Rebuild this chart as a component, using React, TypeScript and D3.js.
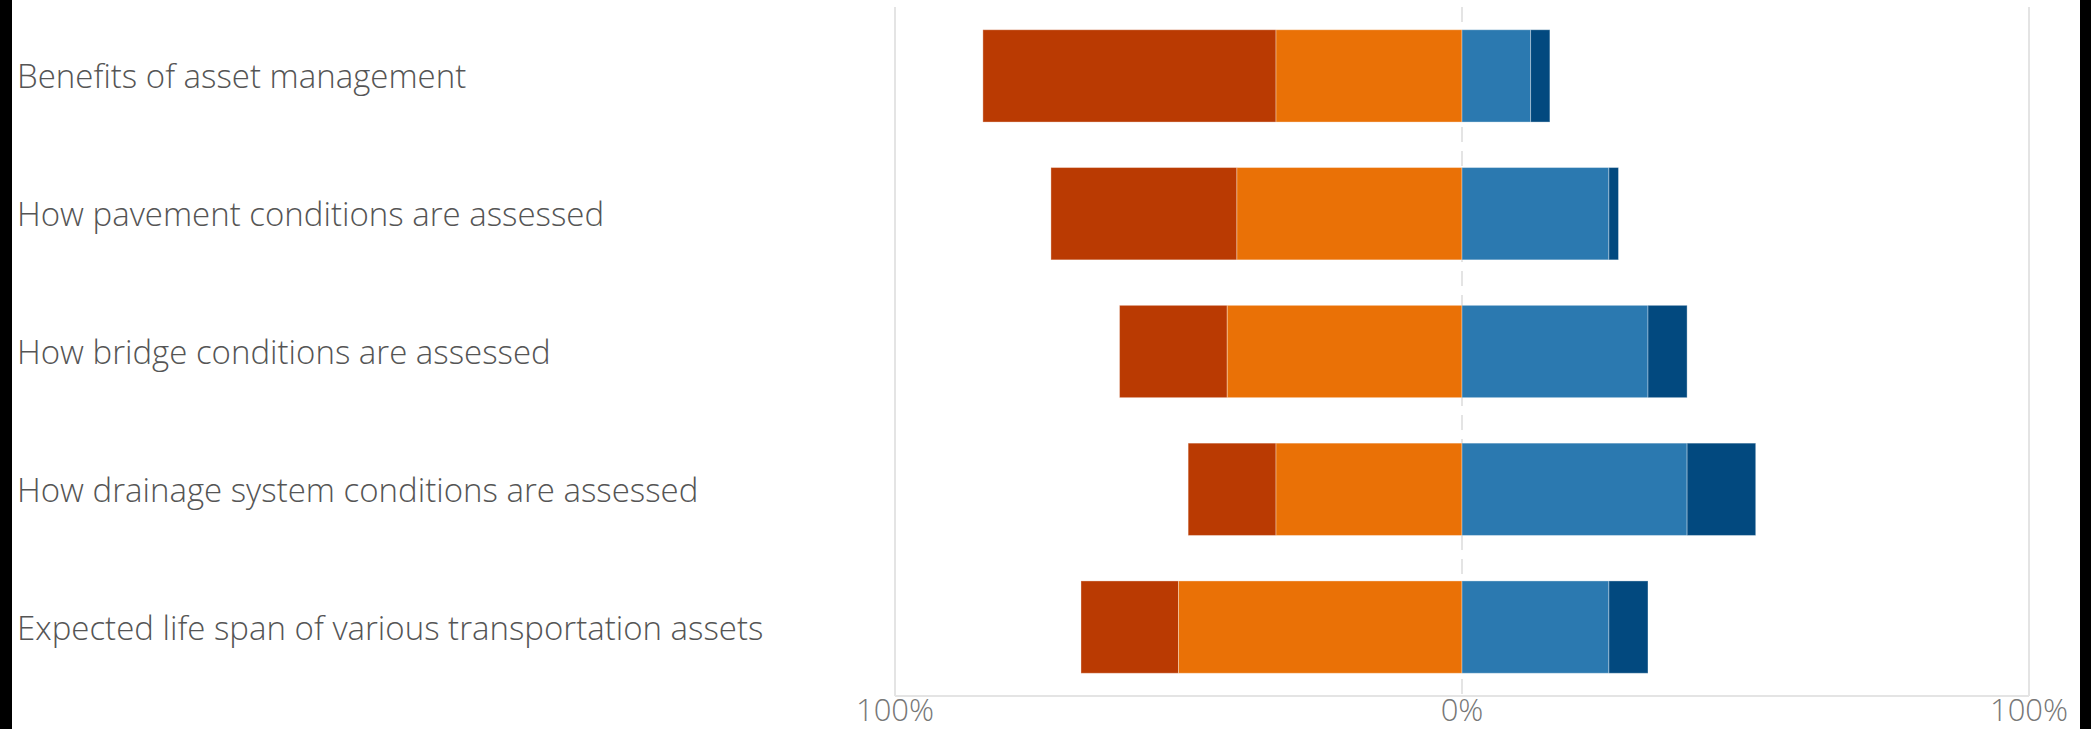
import React, { useEffect, useRef } from "react";
import * as d3 from "d3";

const categories = [
  "Benefits of asset management",
  "How pavement conditions are assessed",
  "How bridge conditions are assessed",
  "How drainage system conditions are assessed",
  "Expected life span of various transportation assets",
];
// percentages per response level
const stronglyNegative = [51.7, 32.8, 19.0, 15.5, 17.2];
const negative = [32.8, 39.7, 41.4, 32.8, 50.0];
const positive = [12.1, 25.9, 32.8, 39.7, 25.9];
const stronglyPositive = [3.4, 1.7, 6.9, 12.1, 6.9];
const tickValues = [-100, 0, 100];
const tickLabels = ["100%", "0%", "100%"];
const colors = ["#BA3A02", "#EA7106", "#2B79B0", "#02497F"];

const W = 2091;
const H = 729;

export default function App() {
  const ref = useRef<SVGSVGElement | null>(null);
  useEffect(() => {
    document.body.style.margin = "0";
    const svg = d3.select(ref.current);
    svg.selectAll("*").remove();

    const x = d3.scaleLinear().domain([-100, 100]).range([895, 2029]);
    const y = d3
      .scaleBand<string>()
      .domain(categories)
      .range([7, 696])
      .paddingInner(0.33)
      .paddingOuter(0.165);

    const font = "'Segoe UI', 'Open Sans', 'Noto Sans', sans-serif";

    svg.append("rect").attr("width", W).attr("height", H).attr("fill", "#fff");

    // gridlines
    const g = svg.append("g");
    [-100, 100].forEach((v) => {
      g.append("line")
        .attr("x1", x(v))
        .attr("x2", x(v))
        .attr("y1", 7)
        .attr("y2", 696)
        .attr("stroke", "#e4e4e4")
        .attr("stroke-width", 2);
    });
    g.append("line")
      .attr("x1", x(0))
      .attr("x2", x(0))
      .attr("y1", 7)
      .attr("y2", 696)
      .attr("stroke", "#e4e4e4")
      .attr("stroke-width", 2)
      .attr("stroke-dasharray", "15 9");
    g.append("line")
      .attr("x1", x(-100))
      .attr("x2", x(100))
      .attr("y1", 696)
      .attr("y2", 696)
      .attr("stroke", "#e4e4e4")
      .attr("stroke-width", 2);

    // bars
    const rows = categories.map((c, i) => {
      const segs: { x0: number; x1: number; color: string }[] = [];
      let left = -(stronglyNegative[i] + negative[i]);
      segs.push({ x0: left, x1: left + stronglyNegative[i], color: colors[0] });
      left += stronglyNegative[i];
      segs.push({ x0: left, x1: 0, color: colors[1] });
      segs.push({ x0: 0, x1: positive[i], color: colors[2] });
      segs.push({
        x0: positive[i],
        x1: positive[i] + stronglyPositive[i],
        color: colors[3],
      });
      return { c, segs };
    });

    const bars = svg.append("g");
    rows.forEach((r) => {
      bars
        .selectAll(null)
        .data(r.segs)
        .enter()
        .append("rect")
        .attr("x", (d) => x(d.x0))
        .attr("width", (d) => x(d.x1) - x(d.x0))
        .attr("y", y(r.c)!)
        .attr("height", y.bandwidth())
        .attr("fill", (d) => d.color)
        .attr("stroke", "rgba(255,255,255,0.35)")
        .attr("stroke-width", 1);
    });

    // category labels
    svg
      .append("g")
      .selectAll("text")
      .data(categories)
      .enter()
      .append("text")
      .attr("x", 17)
      .attr("y", (d) => y(d)! + y.bandwidth() / 2)
      .attr("dominant-baseline", "central")
      .attr("font-family", font)
      .attr("font-weight", 300)
      .attr("font-size", 33)
      .attr("fill", "#555")
      .text((d) => d);

    // tick labels
    svg
      .append("g")
      .selectAll("text")
      .data(tickValues)
      .enter()
      .append("text")
      .attr("x", (d) => x(d))
      .attr("y", 721)
      .attr("text-anchor", "middle")
      .attr("font-family", font)
      .attr("font-weight", 300)
      .attr("font-size", 31)
      .attr("fill", "#777")
      .text((_, i) => tickLabels[i]);

    // dark frame edges
    svg.append("rect").attr("x", 0).attr("y", 0).attr("width", 12).attr("height", H).attr("fill", "#000");
    svg.append("rect").attr("x", 2080).attr("y", 0).attr("width", 11).attr("height", H).attr("fill", "#000");
  }, []);

  return (
    <svg
      ref={ref}
      width={W}
      height={H}
      style={{ position: "absolute", left: 0, top: 0, display: "block" }}
    />
  );
}
